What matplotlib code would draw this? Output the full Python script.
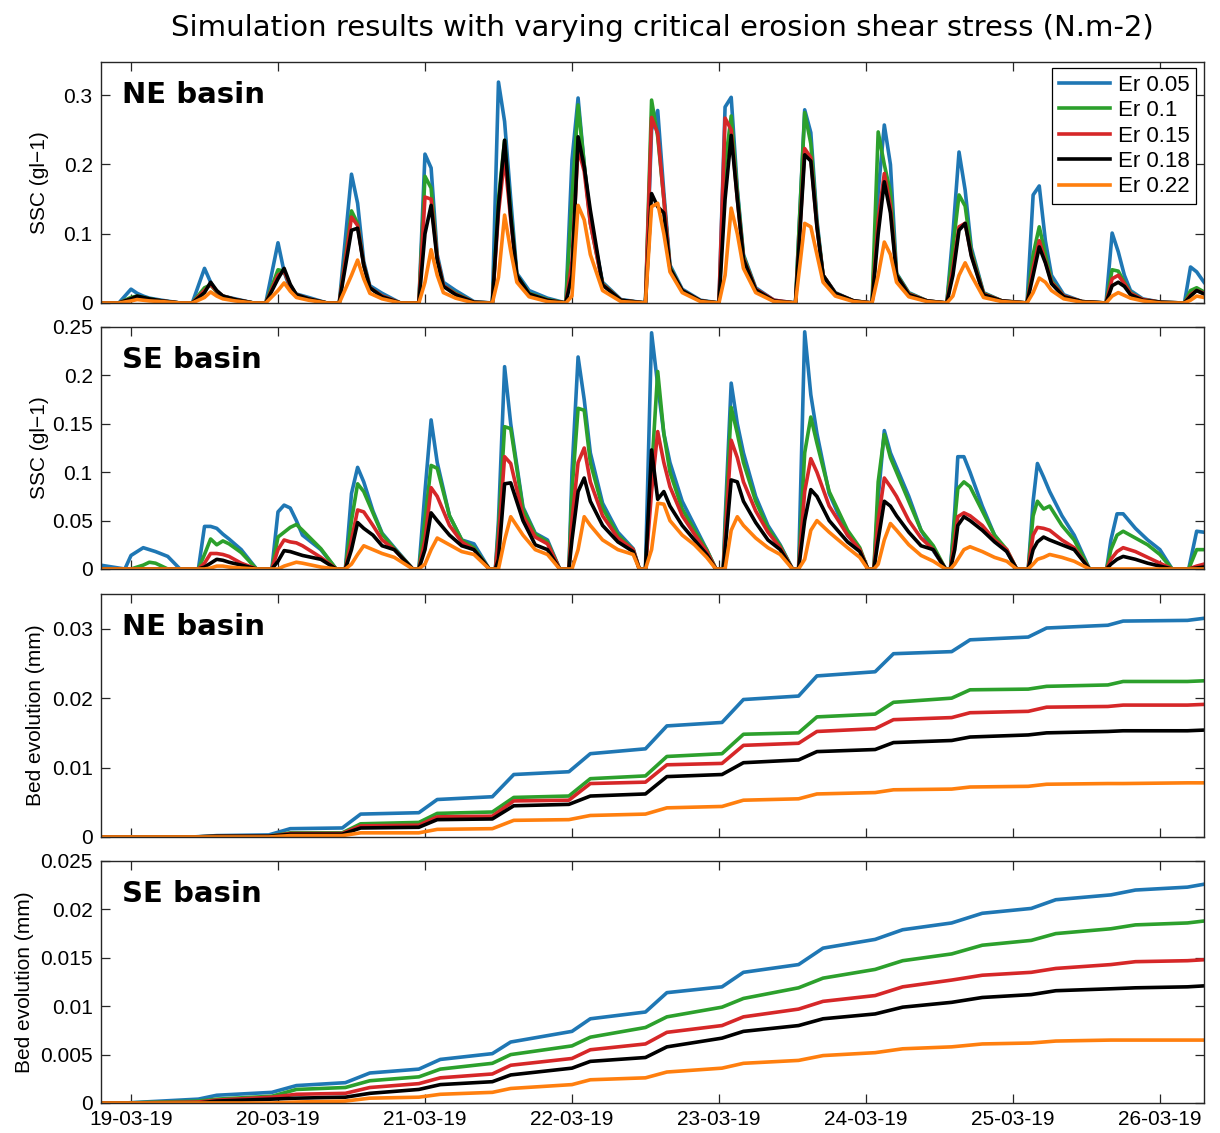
import datetime as dt
import numpy as np
import matplotlib
matplotlib.use("Agg")
import matplotlib.pyplot as plt
import matplotlib.dates as mdates
from matplotlib.font_manager import FontProperties, findfont

# ---------------------------------------------------------------- data
START = dt.datetime(2019, 3, 19)
x_range_hours = (-4.9, 175.2)

series_labels = ["Er 0.05", "Er 0.1", "Er 0.15", "Er 0.18", "Er 0.22"]
series_colors = ["#1f77b4", "#2ca02c", "#d62728", "#000000", "#ff7f0e"]

title_text = "Simulation results with varying critical erosion shear stress (N.m-2)"
panel_names = ["NE basin", "SE basin", "NE basin", "SE basin"]
y_labels = ["SSC (gl\u22121)", "SSC (gl\u22121)", "Bed evolution (mm)", "Bed evolution (mm)"]

yticks_ne_ssc = [0, 0.1, 0.2, 0.3]
yticklabels_ne_ssc = ["0", "0.1", "0.2", "0.3"]
yticks_se_ssc = [0, 0.05, 0.1, 0.15, 0.2, 0.25]
yticklabels_se_ssc = ["0", "0.05", "0.1", "0.15", "0.2", "0.25"]
yticks_ne_bed = [0, 0.01, 0.02, 0.03]
yticklabels_ne_bed = ["0", "0.01", "0.02", "0.03"]
yticks_se_bed = [0, 0.005, 0.01, 0.015, 0.02, 0.025]
yticklabels_se_bed = ["0", "0.005", "0.01", "0.015", "0.02", "0.025"]
ylims = [0.348, 0.25, 0.035, 0.025]

# --- NE basin SSC (g/l), hours after 19-03-19 00:00
ne_ssc_hours = [
    -5, -2, 0, 1, 2, 3, 5, 8,
    10, 12, 13, 14, 15, 17, 20,
    22, 24, 25, 26, 27, 29, 32,
    34, 36, 37, 38, 39, 41, 44,
    47, 48, 49, 50, 51, 53, 56,
    59, 60, 61, 62, 63, 65, 68,
    71, 72, 73, 74, 75, 77, 80,
    84, 85, 86, 87, 88, 90, 93,
    96, 97, 98, 99, 100, 102, 105,
    108.5, 110, 111, 112, 113, 115, 118,
    121, 122, 123, 124, 125, 127, 130,
    133.2, 134.2, 135.2, 136.2, 137.2, 139.2, 142.2,
    146.3, 147.3, 148.3, 149.3, 150.3, 152.3, 155.3,
    159.2, 160.2, 161.2, 162.2, 163.2, 165.2, 168.2,
    172, 173, 174, 175.2]
ne_ssc_er005 = [
    0, 0, 0.020, 0.014, 0.010, 0.007, 0.004, 0,
    0, 0.050, 0.030, 0.015, 0.010, 0.006, 0,
    0, 0.087, 0.045, 0.020, 0.013, 0.008, 0,
    0, 0.186, 0.144, 0.060, 0.025, 0.014, 0,
    0, 0.215, 0.195, 0.070, 0.030, 0.018, 0.002,
    0, 0.319, 0.262, 0.150, 0.043, 0.018, 0.007,
    0, 0.206, 0.296, 0.200, 0.120, 0.030, 0.005,
    0, 0.250, 0.278, 0.160, 0.055, 0.020, 0.004,
    0, 0.283, 0.297, 0.165, 0.070, 0.022, 0.004,
    0, 0.279, 0.246, 0.120, 0.040, 0.015, 0.003,
    0, 0.160, 0.257, 0.200, 0.043, 0.015, 0.003,
    0, 0.100, 0.218, 0.163, 0.080, 0.015, 0.003,
    0, 0.156, 0.169, 0.090, 0.040, 0.012, 0.002,
    0, 0.101, 0.074, 0.040, 0.018, 0.006, 0.001,
    0, 0.052, 0.045, 0.030]
ne_ssc_er010 = [
    0, 0, 0.008, 0.010, 0.008, 0.006, 0.003, 0,
    0, 0.022, 0.026, 0.016, 0.010, 0.005, 0,
    0, 0.048, 0.046, 0.025, 0.012, 0.006, 0,
    0, 0.133, 0.115, 0.055, 0.022, 0.010, 0,
    0, 0.183, 0.166, 0.065, 0.025, 0.014, 0.001,
    0, 0.150, 0.235, 0.130, 0.040, 0.014, 0.005,
    0, 0.150, 0.286, 0.200, 0.115, 0.028, 0.004,
    0, 0.293, 0.240, 0.150, 0.052, 0.018, 0.003,
    0, 0.200, 0.270, 0.160, 0.068, 0.020, 0.003,
    0, 0.275, 0.230, 0.115, 0.040, 0.014, 0.003,
    0, 0.247, 0.200, 0.160, 0.042, 0.014, 0.003,
    0, 0.080, 0.156, 0.140, 0.075, 0.014, 0.003,
    0, 0.070, 0.110, 0.070, 0.032, 0.010, 0.002,
    0, 0.048, 0.046, 0.030, 0.015, 0.005, 0.001,
    0, 0.018, 0.022, 0.016]
ne_ssc_er015 = [
    0, 0, 0.006, 0.009, 0.007, 0.005, 0.003, 0,
    0, 0.018, 0.027, 0.017, 0.010, 0.005, 0,
    0, 0.040, 0.046, 0.025, 0.012, 0.006, 0,
    0, 0.124, 0.112, 0.055, 0.022, 0.010, 0,
    0, 0.153, 0.150, 0.065, 0.025, 0.013, 0.001,
    0, 0.130, 0.210, 0.120, 0.038, 0.013, 0.004,
    0, 0.060, 0.224, 0.190, 0.115, 0.027, 0.004,
    0, 0.268, 0.245, 0.150, 0.050, 0.018, 0.003,
    0, 0.267, 0.250, 0.150, 0.065, 0.020, 0.004,
    0, 0.223, 0.210, 0.110, 0.040, 0.014, 0.003,
    0, 0.120, 0.187, 0.140, 0.040, 0.013, 0.003,
    0, 0.050, 0.110, 0.115, 0.070, 0.013, 0.003,
    0, 0.050, 0.090, 0.060, 0.030, 0.010, 0.002,
    0, 0.035, 0.040, 0.028, 0.014, 0.005, 0.001,
    0, 0.012, 0.018, 0.014]
ne_ssc_er018 = [
    0, 0, 0.006, 0.010, 0.008, 0.006, 0.003, 0,
    0, 0.015, 0.030, 0.018, 0.010, 0.005, 0,
    0, 0.035, 0.050, 0.027, 0.012, 0.006, 0,
    0, 0.105, 0.108, 0.055, 0.022, 0.009, 0,
    0, 0.100, 0.141, 0.062, 0.024, 0.012, 0.001,
    0, 0.140, 0.235, 0.125, 0.040, 0.013, 0.004,
    0, 0.040, 0.240, 0.197, 0.134, 0.026, 0.004,
    0, 0.158, 0.139, 0.130, 0.050, 0.018, 0.003,
    0, 0.150, 0.242, 0.150, 0.063, 0.019, 0.003,
    0, 0.214, 0.205, 0.110, 0.040, 0.014, 0.003,
    0, 0.100, 0.175, 0.130, 0.040, 0.012, 0.003,
    0, 0.040, 0.105, 0.115, 0.068, 0.012, 0.003,
    0, 0.040, 0.081, 0.058, 0.028, 0.009, 0.002,
    0, 0.025, 0.030, 0.024, 0.012, 0.004, 0.001,
    0, 0.010, 0.018, 0.013]
ne_ssc_er022 = [
    0, 0, 0.003, 0.005, 0.004, 0.003, 0.002, 0,
    0, 0.008, 0.016, 0.010, 0.006, 0.003, 0,
    0, 0.018, 0.029, 0.017, 0.008, 0.004, 0,
    0, 0.040, 0.062, 0.035, 0.014, 0.006, 0,
    0, 0.030, 0.077, 0.040, 0.015, 0.007, 0,
    0, 0.037, 0.127, 0.075, 0.030, 0.009, 0.002,
    0, 0.010, 0.141, 0.120, 0.070, 0.018, 0.002,
    0, 0.139, 0.144, 0.100, 0.045, 0.015, 0.002,
    0, 0.040, 0.137, 0.100, 0.050, 0.015, 0.002,
    0, 0.115, 0.110, 0.070, 0.030, 0.010, 0.002,
    0, 0.040, 0.088, 0.070, 0.030, 0.009, 0.002,
    0, 0.010, 0.040, 0.058, 0.040, 0.008, 0.002,
    0, 0.015, 0.036, 0.030, 0.018, 0.006, 0.001,
    0, 0.010, 0.015, 0.011, 0.007, 0.003, 0,
    0, 0.004, 0.010, 0.008]

# --- SE basin SSC (g/l)
se_ssc_hours = [
    -5, -1, 0, 2, 3, 4, 6, 8,
    11, 12, 13, 14, 15, 16, 18, 20.5,
    23, 24, 25, 26, 27, 28, 31, 33.5,
    35, 36, 37, 38, 39.5, 41, 43, 46,
    47, 48, 49, 50, 52, 54, 56, 58.5,
    59.5, 60, 61, 62, 64, 66, 68, 70,
    71.5, 72, 73, 74, 75, 77, 79.5, 82, 83,
    84, 85, 86, 87, 88, 90, 92, 94, 95.5,
    96.7, 97, 98, 99, 100, 102, 104, 106, 108,
    109, 110, 111, 112, 114, 117, 119, 120.3,
    121.3, 122, 123, 124, 125, 127, 129, 131, 133,
    133.8, 134.5, 135, 136, 137, 139, 141, 143, 144.6,
    146.5, 147.3, 148, 149, 150, 152, 154, 156.5,
    159.3, 160, 161, 162, 164, 166, 168, 170,
    172.7, 174, 175.2]
se_ssc_er005 = [
    0.004, 0, 0.014, 0.022, 0.020, 0.018, 0.013, 0,
    0, 0.044, 0.044, 0.042, 0.036, 0.031, 0.020, 0,
    0, 0.059, 0.066, 0.063, 0.050, 0.035, 0.020, 0,
    0, 0.078, 0.105, 0.090, 0.060, 0.037, 0.022, 0,
    0, 0.080, 0.154, 0.110, 0.055, 0.030, 0.026, 0,
    0, 0.050, 0.209, 0.150, 0.064, 0.037, 0.030, 0,
    0, 0.100, 0.219, 0.175, 0.120, 0.068, 0.038, 0.021, 0,
    0, 0.244, 0.190, 0.140, 0.110, 0.070, 0.045, 0.020, 0,
    0, 0.050, 0.192, 0.150, 0.120, 0.075, 0.045, 0.025, 0,
    0, 0.245, 0.180, 0.140, 0.078, 0.035, 0.020, 0,
    0, 0.073, 0.143, 0.120, 0.105, 0.075, 0.040, 0.019, 0,
    0, 0.060, 0.116, 0.116, 0.100, 0.065, 0.035, 0.018, 0,
    0, 0.070, 0.109, 0.095, 0.080, 0.055, 0.035, 0,
    0, 0.030, 0.057, 0.057, 0.042, 0.030, 0.020, 0,
    0, 0.039, 0.038]
se_ssc_er010 = [
    0, 0, 0, 0.004, 0.007, 0.006, 0, 0,
    0, 0.015, 0.031, 0.025, 0.029, 0.026, 0.017, 0,
    0, 0.033, 0.038, 0.043, 0.046, 0.040, 0.021, 0,
    0, 0.050, 0.088, 0.080, 0.058, 0.036, 0.021, 0,
    0, 0.050, 0.107, 0.104, 0.055, 0.030, 0.022, 0,
    0, 0.040, 0.147, 0.145, 0.062, 0.036, 0.028, 0,
    0, 0.080, 0.166, 0.164, 0.110, 0.063, 0.035, 0.020, 0,
    0, 0.100, 0.204, 0.140, 0.100, 0.062, 0.040, 0.020, 0,
    0, 0.040, 0.167, 0.140, 0.110, 0.070, 0.042, 0.024, 0,
    0, 0.120, 0.157, 0.130, 0.080, 0.040, 0.022, 0,
    0, 0.090, 0.139, 0.115, 0.100, 0.070, 0.040, 0.024, 0,
    0, 0.050, 0.083, 0.090, 0.085, 0.060, 0.035, 0.020, 0,
    0, 0.055, 0.070, 0.062, 0.065, 0.045, 0.030, 0,
    0, 0.020, 0.035, 0.039, 0.032, 0.025, 0.015, 0,
    0, 0.020, 0.020]
se_ssc_er015 = [
    0, 0, 0, 0, 0, 0, 0, 0,
    0, 0.006, 0.016, 0.016, 0.015, 0.013, 0.006, 0,
    0, 0.020, 0.030, 0.028, 0.027, 0.024, 0.012, 0,
    0, 0.030, 0.061, 0.059, 0.045, 0.030, 0.020, 0,
    0, 0.030, 0.084, 0.075, 0.045, 0.028, 0.020, 0,
    0, 0.030, 0.116, 0.109, 0.055, 0.033, 0.026, 0,
    0, 0.050, 0.110, 0.125, 0.090, 0.055, 0.032, 0.020, 0,
    0, 0.080, 0.142, 0.110, 0.085, 0.055, 0.036, 0.018, 0,
    0, 0.030, 0.133, 0.115, 0.090, 0.060, 0.038, 0.022, 0,
    0, 0.080, 0.114, 0.100, 0.065, 0.035, 0.020, 0,
    0, 0.050, 0.094, 0.085, 0.075, 0.050, 0.032, 0.020, 0,
    0, 0.030, 0.054, 0.058, 0.055, 0.045, 0.030, 0.020, 0,
    0, 0.035, 0.043, 0.042, 0.040, 0.030, 0.022, 0,
    0, 0.010, 0.018, 0.022, 0.018, 0.012, 0.006, 0,
    0, 0.003, 0.005]
se_ssc_er018 = [
    0, 0, 0, 0, 0, 0, 0, 0,
    0, 0.002, 0.006, 0.010, 0.009, 0.007, 0.004, 0,
    0, 0.008, 0.019, 0.018, 0.016, 0.014, 0.010, 0,
    0, 0.020, 0.048, 0.042, 0.035, 0.024, 0.020, 0,
    0, 0.020, 0.058, 0.050, 0.035, 0.024, 0.020, 0,
    0, 0.010, 0.088, 0.089, 0.050, 0.025, 0.020, 0,
    0, 0.030, 0.080, 0.094, 0.070, 0.045, 0.028, 0.018, 0,
    0, 0.123, 0.072, 0.080, 0.065, 0.045, 0.030, 0.015, 0,
    0, 0.020, 0.092, 0.090, 0.070, 0.048, 0.030, 0.020, 0,
    0, 0.050, 0.082, 0.075, 0.050, 0.028, 0.018, 0,
    0, 0.030, 0.070, 0.065, 0.055, 0.038, 0.024, 0.020, 0,
    0, 0.020, 0.045, 0.054, 0.050, 0.040, 0.028, 0.018, 0,
    0, 0.020, 0.028, 0.033, 0.030, 0.025, 0.020, 0,
    0, 0.005, 0.010, 0.013, 0.010, 0.006, 0.003, 0,
    0, 0.001, 0.002]
se_ssc_er022 = [
    0, 0, 0, 0, 0, 0, 0, 0,
    0, 0, 0.001, 0.003, 0.003, 0.002, 0.001, 0,
    0, 0, 0.003, 0.005, 0.007, 0.006, 0.002, 0,
    0, 0.005, 0.015, 0.024, 0.020, 0.016, 0.012, 0,
    0, 0.005, 0.020, 0.032, 0.025, 0.018, 0.015, 0,
    0, 0, 0.030, 0.054, 0.035, 0.020, 0.015, 0,
    0, 0, 0.020, 0.054, 0.045, 0.030, 0.020, 0.015, 0,
    0, 0.020, 0.068, 0.067, 0.050, 0.035, 0.025, 0.012, 0,
    0, 0, 0.040, 0.054, 0.045, 0.032, 0.022, 0.015, 0,
    0, 0.010, 0.040, 0.050, 0.038, 0.022, 0.012, 0,
    0, 0.005, 0.030, 0.047, 0.040, 0.025, 0.014, 0.008, 0,
    0, 0.005, 0.010, 0.020, 0.023, 0.018, 0.012, 0.008, 0,
    0, 0.005, 0.010, 0.012, 0.015, 0.012, 0.008, 0,
    0, 0, 0, 0, 0, 0, 0, 0,
    0, 0, 0]

# --- NE basin bed evolution (mm)
ne_bed_hours = [-5, 10, 14, 22.5, 26, 34.5, 37.5, 47, 50, 59, 62.5, 71.5, 75,
                84, 87.5, 96.5, 100, 109, 112, 121.5, 124.5, 134, 137,
                146.5, 149.5, 159.5, 162, 172.5, 175.2]
ne_bed_er005 = [0, 0, 0.0002, 0.0003, 0.0012, 0.0013, 0.0033, 0.0035, 0.0054, 0.0058,
                0.0090, 0.0094, 0.0120, 0.0127, 0.0160, 0.0165, 0.0198, 0.0203, 0.0232,
                0.0238, 0.0264, 0.0267, 0.0284, 0.0288, 0.0301, 0.0305, 0.0311, 0.0312, 0.0315]
ne_bed_er010 = [0, 0, 0.0001, 0.0001, 0.0006, 0.0006, 0.0019, 0.0021, 0.0034, 0.0036,
                0.0057, 0.0059, 0.0084, 0.0088, 0.0116, 0.0120, 0.0148, 0.0150, 0.0173,
                0.0177, 0.0194, 0.0200, 0.0212, 0.0213, 0.0217, 0.0219, 0.0224, 0.0224, 0.0225]
ne_bed_er015 = [0, 0, 0.0001, 0.0001, 0.0005, 0.0005, 0.0016, 0.0017, 0.0029, 0.0030,
                0.0052, 0.0053, 0.0077, 0.0079, 0.0104, 0.0106, 0.0132, 0.0135, 0.0152,
                0.0156, 0.0169, 0.0172, 0.0179, 0.0181, 0.0187, 0.0188, 0.0190, 0.0190, 0.0191]
ne_bed_er018 = [0, 0, 0.0001, 0.0001, 0.0004, 0.0004, 0.0013, 0.0014, 0.0025, 0.0026,
                0.0045, 0.0047, 0.0059, 0.0062, 0.0087, 0.0090, 0.0107, 0.0111, 0.0123,
                0.0126, 0.0136, 0.0139, 0.0144, 0.0147, 0.0150, 0.0152, 0.0153, 0.0153, 0.0154]
ne_bed_er022 = [0, 0, 0, 0, 0.0002, 0.0002, 0.0006, 0.0006, 0.0011, 0.0012,
                0.0024, 0.0025, 0.0031, 0.0033, 0.0042, 0.0044, 0.0053, 0.0055, 0.0062,
                0.0064, 0.0068, 0.0069, 0.0072, 0.0073, 0.0076, 0.0077, 0.0077, 0.0078, 0.0078]

# --- SE basin bed evolution (mm)
se_bed_hours = [-5, -1, 11, 14, 23, 27, 35, 39, 47, 50.5, 59, 62, 72, 75, 84, 87.5,
                96.5, 100, 109, 113, 121.5, 126, 134, 139, 147, 151, 160, 164, 172.5, 175.2]
se_bed_er005 = [0, 0, 0.0004, 0.0008, 0.0011, 0.0018, 0.0021, 0.0031, 0.0035, 0.0045,
                0.0051, 0.0063, 0.0074, 0.0087, 0.0094, 0.0114, 0.0120, 0.0135, 0.0143, 0.0160,
                0.0169, 0.0179, 0.0186, 0.0196, 0.0201, 0.0210, 0.0215, 0.0220, 0.0223, 0.0226]
se_bed_er010 = [0, 0, 0.0002, 0.0004, 0.0007, 0.0014, 0.0016, 0.0023, 0.0027, 0.0035,
                0.0041, 0.0050, 0.0059, 0.0068, 0.0078, 0.0089, 0.0099, 0.0108, 0.0119, 0.0129,
                0.0138, 0.0147, 0.0154, 0.0163, 0.0168, 0.0175, 0.0180, 0.0184, 0.0186, 0.0188]
se_bed_er015 = [0, 0, 0.0001, 0.0003, 0.0006, 0.0009, 0.0010, 0.0016, 0.0020, 0.0026,
                0.0030, 0.0039, 0.0046, 0.0055, 0.0061, 0.0073, 0.0080, 0.0089, 0.0097, 0.0105,
                0.0111, 0.0120, 0.0127, 0.0132, 0.0135, 0.0139, 0.0143, 0.0146, 0.0147, 0.0148]
se_bed_er018 = [0, 0, 0, 0.0002, 0.0004, 0.0005, 0.0006, 0.0010, 0.0014, 0.0019,
                0.0022, 0.0029, 0.0036, 0.0043, 0.0047, 0.0058, 0.0067, 0.0074, 0.0080, 0.0087,
                0.0092, 0.0099, 0.0104, 0.0109, 0.0112, 0.0116, 0.0118, 0.0119, 0.0120, 0.0121]
se_bed_er022 = [0, 0, 0, 0, 0, 0.0001, 0.0002, 0.0005, 0.0006, 0.0009,
                0.0011, 0.0015, 0.0019, 0.0024, 0.0026, 0.0032, 0.0036, 0.0041, 0.0044, 0.0049,
                0.0052, 0.0056, 0.0058, 0.0061, 0.0062, 0.0064, 0.0065, 0.0065, 0.0065, 0.0065]

# ---------------------------------------------------------------- style
def font_available(name):
    try:
        findfont(FontProperties(family=name), fallback_to_default=False)
        return True
    except Exception:
        return False

SANS = "Liberation Sans" if font_available("Liberation Sans") else "DejaVu Sans"
NARROW = "Liberation Sans Narrow" if font_available("Liberation Sans Narrow") else SANS
AX_COL = "#262626"

panels = [
    (ne_ssc_hours, [ne_ssc_er005, ne_ssc_er010, ne_ssc_er015, ne_ssc_er018, ne_ssc_er022],
     yticks_ne_ssc, yticklabels_ne_ssc),
    (se_ssc_hours, [se_ssc_er005, se_ssc_er010, se_ssc_er015, se_ssc_er018, se_ssc_er022],
     yticks_se_ssc, yticklabels_se_ssc),
    (ne_bed_hours, [ne_bed_er005, ne_bed_er010, ne_bed_er015, ne_bed_er018, ne_bed_er022],
     yticks_ne_bed, yticklabels_ne_bed),
    (se_bed_hours, [se_bed_er005, se_bed_er010, se_bed_er015, se_bed_er018, se_bed_er022],
     yticks_se_bed, yticklabels_se_bed),
]

W_PX, H_PX = 1220, 1133
fig = plt.figure(figsize=(W_PX / 100, H_PX / 100), dpi=100)
fig.patch.set_facecolor("white")

left_px, right_px = 101, 1204
panel_px = [(62, 303), (327, 569), (594, 837), (861, 1103)]
ylabel_x = [-0.047, -0.047, -0.051, -0.061]

base = mdates.date2num(START)
def to_dates(hours):
    return base + np.asarray(hours, dtype=float) / 24.0

axes = []
for i, ((hours, series, yt, ytl), (top, bot)) in enumerate(zip(panels, panel_px)):
    ax = fig.add_axes([left_px / W_PX, 1 - bot / H_PX,
                       (right_px - left_px) / W_PX, (bot - top) / H_PX])
    x = to_dates(hours)
    for vals, lab, col in zip(series, series_labels, series_colors):
        if len(vals) != len(hours):
            raise ValueError(f"panel {i} series {lab}: {len(vals)} values vs {len(hours)} times")
        ax.plot(x, vals, color=col, lw=2.6, label=lab, solid_joinstyle="round")
    ax.set_xlim(to_dates([x_range_hours[0]])[0], to_dates([x_range_hours[1]])[0])
    ax.set_ylim(0, ylims[i])
    ax.set_yticks(yt)
    ax.set_yticklabels(ytl, fontfamily=NARROW, fontsize=15)
    ax.xaxis.set_major_locator(mdates.DayLocator())
    ax.xaxis.set_major_formatter(mdates.DateFormatter("%d-%m-%y"))
    ax.tick_params(axis="both", direction="in", top=True, right=True, length=6.5,
                   width=0.9, color=AX_COL, labelcolor="black")
    ax.tick_params(axis="y", pad=6)
    ax.tick_params(axis="x", pad=5, labelsize=15)
    for lbl in ax.get_xticklabels():
        lbl.set_fontfamily(SANS)
    if i < 3:
        ax.tick_params(labelbottom=False)
    for sp in ax.spines.values():
        sp.set_color(AX_COL)
        sp.set_linewidth(1.0)
    ax.set_ylabel(y_labels[i], fontfamily=SANS, fontsize=15)
    ax.yaxis.set_label_coords(ylabel_x[i], 0.5)
    ax.text(0.019, 0.92, panel_names[i], transform=ax.transAxes, ha="left", va="top",
            fontsize=21, fontweight="bold", family="DejaVu Sans")
    axes.append(ax)

leg = axes[0].legend(loc="upper right", bbox_to_anchor=(0.9927, 0.975), borderaxespad=0,
                     frameon=True, fancybox=False, edgecolor="black", framealpha=1,
                     prop={"family": SANS, "size": 16}, handlelength=2.3,
                     handletextpad=0.35, labelspacing=0.2, borderpad=0.3)
leg.get_frame().set_linewidth(0.9)

fig.text(662 / W_PX, 1 - 28 / H_PX, title_text, ha="center", va="center",
         fontsize=21, family="DejaVu Sans")

fig.savefig("out.png", dpi=100, facecolor="white")
